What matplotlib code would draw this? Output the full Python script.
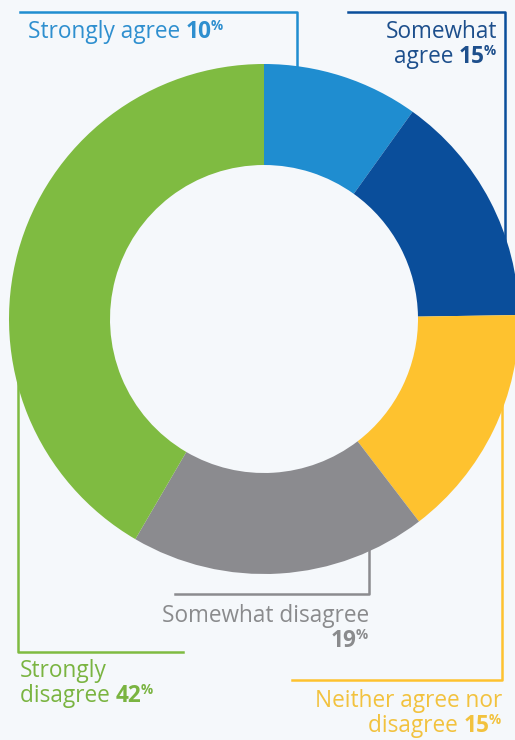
import matplotlib
matplotlib.use("Agg")
import matplotlib.pyplot as plt

# data
labels = ["Strongly agree", "Somewhat agree", "Neither agree nor disagree",
          "Somewhat disagree", "Strongly disagree"]
values = [10, 15, 15, 19, 42]
wedge_colors = ["#1f8dd0", "#0a4e9b", "#fec22f", "#8b8b8f", "#7fbb41"]
text_colors = ["#2e8fcf", "#1d4f8c", "#f2c23e", "#8a8b8d", "#7ab441"]

W, H = 515, 740
BG = "#f5f8fb"
FONT = "Open Sans"
FS = 16.3

fig = plt.figure(figsize=(W / 100, H / 100), dpi=100, facecolor=BG)
ax = fig.add_axes([0, 0, 1, 1])

cx, cy, R = 264, 319, 255
# y axis is flipped below, so start at -90 and run "counterclock" to look clockwise
ax.pie(values, colors=wedge_colors, startangle=-90, counterclock=True,
       center=(cx, cy), radius=R, frame=True,
       wedgeprops=dict(width=101, edgecolor="none", zorder=3))
ax.set_xlim(0, W)
ax.set_ylim(H, 0)
ax.set_facecolor(BG)
ax.axis("off")

# leader lines, behind the ring
lw = 1.8
ax.plot([20, 297, 297], [12, 12, 100], color=wedge_colors[0], lw=lw, zorder=1)
ax.plot([348, 505, 505], [12, 12, 300], color=wedge_colors[1], lw=lw, zorder=1)
ax.plot([292, 502, 502], [680, 680, 380], color=wedge_colors[2], lw=lw, zorder=1)
ax.plot([175, 369, 369], [594, 594, 500], color=wedge_colors[3], lw=lw, zorder=1)
ax.plot([183, 18, 18], [652, 652, 330], color=wedge_colors[4], lw=lw, zorder=1)

fig.canvas.draw()
renderer = fig.canvas.get_renderer()


def put_line(x, y, words, num, color, ha="left"):
    # words regular, number bold, small raised percent sign
    runs = []
    if words:
        runs.append((words + " ", "normal", FS, 0))
    runs.append((num, "bold", FS, 0))
    runs.append(("%", "bold", FS * 0.6, -8))
    objs = []
    widths = []
    for s, wt, sz, dy in runs:
        t = ax.text(0, 0, s, fontsize=sz, fontweight=wt, family=FONT,
                    color=color, va="baseline", ha="left")
        bb = t.get_window_extent(renderer)
        objs.append(t)
        widths.append(bb.width)
    total = sum(widths)
    xx = x - total if ha == "right" else x
    for t, w, (s, wt, sz, dy) in zip(objs, widths, runs):
        t.set_position((xx, y + dy))
        xx += w - (1 if s.isdigit() else 0)


def put_plain(x, y, s, color, ha="left"):
    ax.text(x, y, s, fontsize=FS, family=FONT, color=color,
            va="baseline", ha=ha)


put_line(28, 38, labels[0], f"{values[0]}", text_colors[0])

put_plain(497, 38, "Somewhat", text_colors[1], ha="right")
put_line(497, 63, "agree", f"{values[1]}", text_colors[1], ha="right")

put_plain(502, 707, "Neither agree nor", text_colors[2], ha="right")
put_line(502, 732, "disagree", f"{values[2]}", text_colors[2], ha="right")

put_plain(369, 622, labels[3], text_colors[3], ha="right")
put_line(369, 647, "", f"{values[3]}", text_colors[3], ha="right")

put_plain(20, 677, "Strongly", text_colors[4])
put_line(20, 702, "disagree", f"{values[4]}", text_colors[4])

fig.savefig("out.png", dpi=100, facecolor=BG)
